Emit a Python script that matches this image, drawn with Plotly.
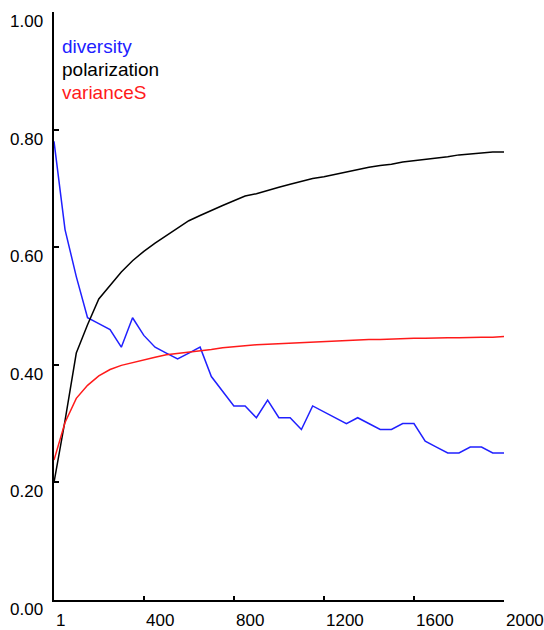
import plotly.graph_objects as go

# ---- data ----
ticks = [1, 50, 100, 150, 200, 250, 300, 350, 400, 450, 500, 550, 600, 650, 700,
         750, 800, 850, 900, 950, 1000, 1050, 1100, 1150, 1200, 1250, 1300, 1350,
         1400, 1450, 1500, 1550, 1600, 1650, 1700, 1750, 1800, 1850, 1900, 1950, 2000]

diversity = [0.78, 0.63, 0.55, 0.48, 0.47, 0.46, 0.43, 0.48, 0.45, 0.43, 0.42,
             0.41, 0.42, 0.43, 0.38, 0.355, 0.33, 0.33, 0.31, 0.34, 0.31, 0.31,
             0.29, 0.33, 0.32, 0.31, 0.30, 0.31, 0.30, 0.29, 0.29, 0.30, 0.30,
             0.27, 0.26, 0.25, 0.25, 0.26, 0.26, 0.25, 0.25]

polarization = [0.20, 0.305, 0.42, 0.468, 0.512, 0.536, 0.558, 0.577, 0.593, 0.607,
                0.620, 0.633, 0.645, 0.654, 0.663, 0.671, 0.679, 0.687, 0.691,
                0.697, 0.702, 0.707, 0.712, 0.717, 0.720, 0.724, 0.729, 0.732,
                0.736, 0.739, 0.741, 0.745, 0.747, 0.750, 0.752, 0.754, 0.757,
                0.759, 0.760, 0.762, 0.762]

varianceS = [0.238, 0.302, 0.343, 0.365, 0.381, 0.392, 0.399, 0.404, 0.409, 0.413,
             0.417, 0.419, 0.421, 0.423, 0.426, 0.429, 0.431, 0.432, 0.434, 0.435,
             0.436, 0.437, 0.438, 0.439, 0.440, 0.440, 0.441, 0.442, 0.443, 0.443,
             0.444, 0.444, 0.445, 0.445, 0.446, 0.446, 0.446, 0.447, 0.447, 0.447,
             0.448]

x_tick_vals = [1, 400, 800, 1200, 1600, 2000]
x_tick_text = ["1", "400", "800", "1200", "1600", "2000"]
y_tick_vals = [0.0, 0.2, 0.4, 0.6, 0.8, 1.0]
y_tick_text = ["0.00", "0.20", "0.40", "0.60", "0.80", "1.00"]

series_names = ["diversity", "polarization", "varianceS"]
series_colors = ["#2020ff", "#000000", "#ff1a1a"]

FONT = "Liberation Sans, Arial, sans-serif"

fig = go.Figure()
for name, vals, col in zip(series_names, [diversity, polarization, varianceS], series_colors):
    fig.add_trace(go.Scatter(x=ticks, y=vals, mode="lines", name=name,
                             line=dict(color=col, width=1.5), showlegend=False))

annotations = []
# x tick labels: left-aligned at tick positions
for v, t in zip(x_tick_vals, x_tick_text):
    annotations.append(dict(x=v, y=0, xref="x", yref="paper", text=t, showarrow=False,
                            xanchor="left", yanchor="middle", xshift=0, yshift=-20.5,
                            font=dict(family=FONT, size=17, color="#000")))
# y tick labels: right-aligned, sitting just below their tick
for v, t in zip(y_tick_vals, y_tick_text):
    annotations.append(dict(x=0, y=v, xref="paper", yref="y", text=t, showarrow=False,
                            xanchor="right", yanchor="middle", xshift=-9, yshift=-9.5,
                            font=dict(family=FONT, size=17, color="#000")))
# legend as coloured text
for i, (name, col) in enumerate(zip(series_names, series_colors)):
    annotations.append(dict(x=0, y=1, xref="paper", yref="paper", text=name, showarrow=False,
                            xanchor="left", yanchor="middle", xshift=6,
                            yshift=-34.7 - 22.8 * i,
                            font=dict(family=FONT, size=19, color=col)))

fig.update_layout(
    width=544, height=630,
    margin=dict(l=54, r=40, t=12, b=30),
    paper_bgcolor="white", plot_bgcolor="white",
    font=dict(family=FONT, size=17, color="#000"),
    annotations=annotations,
    xaxis=dict(range=[1, 2000], tickvals=x_tick_vals, showticklabels=False,
               ticks="inside", ticklen=4, tickwidth=1.5, tickcolor="#000",
               showline=True, linecolor="#000", linewidth=2, showgrid=False,
               zeroline=False, fixedrange=True),
    yaxis=dict(range=[0, 1], tickvals=y_tick_vals, showticklabels=False,
               ticks="inside", ticklen=5, tickwidth=1.5, tickcolor="#000",
               showline=True, linecolor="#000", linewidth=2, showgrid=False,
               zeroline=False, fixedrange=True),
)

fig.write_html(
    "out.html",
    config={"displayModeBar": False},
    post_script="document.body.style.margin='0';document.body.style.overflow='hidden';",
)
